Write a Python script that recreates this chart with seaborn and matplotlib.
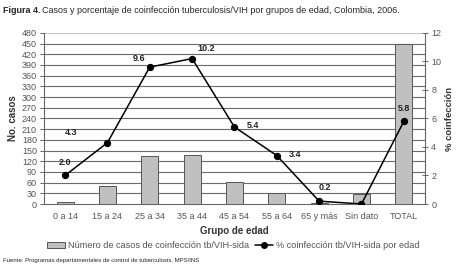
import matplotlib
matplotlib.use("Agg")
import matplotlib.pyplot as plt
import seaborn as sns
import pandas as pd
from matplotlib.patches import Patch
from matplotlib.lines import Line2D

categories = ["0 a 14", "15 a 24", "25 a 34", "35 a 44", "45 a 54", "55 a 64", "65 y más", "Sin dato", "TOTAL"]
casos = [7, 51, 135, 138, 61, 32, 4, 28, 450]
pct = [2.0, 4.3, 9.6, 10.2, 5.4, 3.4, 0.2, 0.0, 5.8]
pct_labels = ["2.0", "4.3", "9.6", "10.2", "5.4", "3.4", "0.2", "", "5.8"]

sns.set_theme(style="white")
plt.rcParams["font.family"] = ["Liberation Sans", "DejaVu Sans"]

df = pd.DataFrame({"grupo": categories, "casos": casos, "pct": pct})

fig = plt.figure(figsize=(4.57, 2.72), dpi=100)
ax = fig.add_axes([0.096, 0.25, 0.834, 0.629])

tick_col = "#555555"
grid_col = "#6a6a6a"

ax.set_ylim(0, 480)
ax.set_yticks(range(0, 481, 30))
for v in range(30, 451, 30):
    ax.axhline(v, color=grid_col, lw=0.8, zorder=0)
ax.axhline(480, color="#c8c8c8", lw=0.8, zorder=0)

sns.barplot(data=df, x="grupo", y="casos", ax=ax, color="#c0c0c0",
            edgecolor="#555555", linewidth=0.7, width=0.4, saturation=1, zorder=2)
ax.set_xlim(-0.5, 8.5)

ax2 = ax.twinx()
sns.lineplot(x=list(range(len(categories))), y=pct, ax=ax2, color="black",
             marker="o", markersize=4.5, linewidth=1.1, markeredgecolor="black")
ax2.set_ylim(0, 12)
ax2.set_yticks(range(0, 13, 2))
ax2.set_xlim(-0.5, 8.5)

offsets = [(0, 9), (-26, 7), (-8, 6), (10, 7), (13, 1), (13, 1), (4, 10), (0, 0), (0, 9)]
for i, (v, lab) in enumerate(zip(pct, pct_labels)):
    if lab:
        ax2.annotate(lab, (i, v), xytext=offsets[i], textcoords="offset points",
                     ha="center", va="center", fontsize=6.5, fontweight="bold",
                     color="#222222")

for a in (ax, ax2):
    for s in a.spines.values():
        s.set_visible(False)
ax.spines["left"].set_visible(True)
ax.spines["bottom"].set_visible(True)
ax2.spines["right"].set_visible(True)
for s in (ax.spines["left"], ax.spines["bottom"], ax2.spines["right"]):
    s.set_color("#666666")
    s.set_linewidth(0.8)

ax.tick_params(axis="y", which="major", length=3, width=0.7, color="#666666",
               labelsize=6.5, labelcolor=tick_col, pad=2, direction="out")
ax2.tick_params(axis="y", which="major", length=5, width=0.7, color="#666666",
                labelsize=6.5, labelcolor=tick_col, pad=2, direction="inout")
ax.set_xticks(range(len(categories)))
ax.set_xticklabels(categories)
ax.tick_params(axis="x", which="major", length=0, labelsize=6.5, labelcolor=tick_col, pad=6)
ax.set_xticks([i + 0.5 for i in range(len(categories) - 1)], minor=True)
ax.tick_params(axis="x", which="minor", length=5, width=0.7, color="#666666", direction="inout")

ax.set_xlabel("Grupo de edad", fontsize=7, fontweight="bold", color="#333333", labelpad=3)
ax.set_ylabel("No. casos", fontsize=7, fontweight="bold", color="#333333", labelpad=3)
ax2.set_ylabel("% coinfección", fontsize=6.8, fontweight="bold", color="#333333", labelpad=3)

handles = [Patch(facecolor="#c0c0c0", edgecolor="#555555", linewidth=0.7),
           Line2D([0], [0], color="black", marker="o", markersize=4, linewidth=1.1)]
labels = ["Número de casos de coinfección tb/VIH-sida", "% coinfección tb/VIH-sida por edad"]
leg = fig.legend(handles, labels, loc="center", bbox_to_anchor=(0.51, 0.097), ncol=2,
                 frameon=False, fontsize=6.6, handlelength=2.0, handleheight=0.6,
                 columnspacing=0.6, handletextpad=0.3)
for t in leg.get_texts():
    t.set_color("#555555")

t1 = fig.text(0.006, 0.963, "Figura 4.", fontsize=6.5, fontweight="bold", va="center", ha="left")
fig.canvas.draw()
bb = t1.get_window_extent(renderer=fig.canvas.get_renderer())
x2 = (bb.x1 + 2) / fig.bbox.width
fig.text(x2, 0.963, "Casos y porcentaje de coinfección tuberculosis/VIH por grupos de edad, Colombia, 2006.",
         fontsize=6.5, va="center", ha="left")
fig.text(0.006, 0.044, "Fuente: Programas departamentales de control de tuberculosis, MPS/INS",
         fontsize=4.3, va="center", ha="left")

fig.savefig("out.png", dpi=100)
